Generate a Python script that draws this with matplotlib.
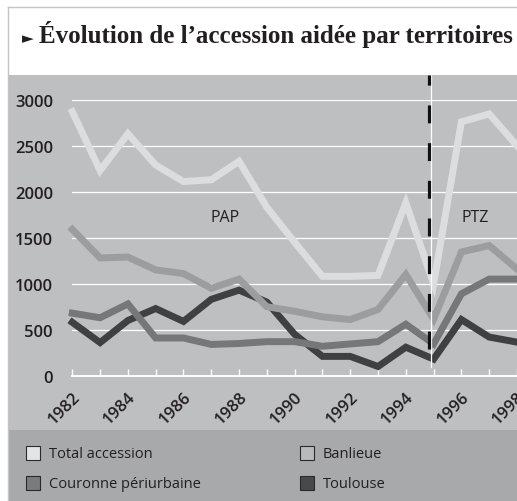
import matplotlib
matplotlib.use("Agg")
import matplotlib.pyplot as plt
from matplotlib.patches import Rectangle
from matplotlib.lines import Line2D
from matplotlib.transforms import ScaledTranslation

# données
years = list(range(1982, 1999))
total = [2870, 2230, 2630, 2290, 2110, 2130, 2330, 1830, 1450, 1080, 1080, 1090, 1880, 1000, 2760, 2845, 2500]
banlieue = [1590, 1280, 1290, 1150, 1110, 950, 1050, 750, 700, 640, 610, 720, 1100, 615, 1345, 1415, 1160]
couronne = [680, 630, 780, 410, 410, 340, 350, 370, 370, 320, 345, 370, 560, 345, 890, 1050, 1050]
toulouse = [580, 360, 600, 730, 590, 830, 930, 800, 450, 210, 210, 100, 310, 180, 610, 420, 365]
series_names = ["Total accession", "Banlieue", "Couronne périurbaine", "Toulouse"]
series_colors = ["#dcddde", "#9c9d9f", "#767779", "#3f4042"]
legend_colors = ["#e4e4e6", "#b9babc", "#7a7b7d", "#48494b"]
ytick_vals = [0, 500, 1000, 1500, 2000, 2500, 3000]
ytick_labels = ["0", "500", "1000", "1500", "2000", "2500", "3000"]
xtick_vals = list(range(1982, 1999, 2))

W, H = 517, 502
FONT = ["Open Sans", "DejaVu Sans"]
TXT = "#231f20"


def fx(px):
    return px / W


def fy(py):
    return 1 - py / H


fig = plt.figure(figsize=(W / 100, H / 100), dpi=100)
fig.patch.set_facecolor("white")

# fonds gris
fig.patches.append(Rectangle((fx(8), fy(431)), 1, fy(76) - fy(431), transform=fig.transFigure,
                             facecolor="#bebfc1", edgecolor="none", zorder=-2))
fig.patches.append(Rectangle((fx(8), 0), 1, fy(431), transform=fig.transFigure,
                             facecolor="#a8a9ab", edgecolor="none", zorder=-2))
# cadre
fig.add_artist(Line2D([fx(8), 1], [fy(7.5), fy(7.5)], transform=fig.transFigure, color="#c4c4c4", lw=1))
fig.add_artist(Line2D([fx(8), fx(8)], [0, fy(7.5)], transform=fig.transFigure, color="#c4c4c4", lw=1))

# titre
fig.text(fx(22), fy(43), "\u25ba", fontsize=11, family=["DejaVu Sans"], color=TXT, va="baseline")
fig.text(fx(39), fy(43), "Évolution de l\u2019accession aidée par territoires", fontsize=18,
         family=["Liberation Serif", "DejaVu Serif"], weight="bold", color=TXT, va="baseline")

ax = fig.add_axes([fx(72.3), fy(376.7), 1 - fx(72.3), fy(100.7) - fy(376.7)])
ax.set_zorder(3)
ax.set_facecolor("none")
ax.set_xlim(1982, 1998)
ax.set_ylim(0, 3000)
for s in ax.spines.values():
    s.set_visible(False)

for v in ytick_vals[1:]:
    ax.axhline(v, color="white", lw=0.9, zorder=1)
ax.axhline(0, color="white", lw=1.4, zorder=1, clip_on=False)

ax.set_yticks(ytick_vals)
ax.set_yticklabels(ytick_labels, family=FONT, fontsize=12, color=TXT, weight="semibold")
ax.tick_params(axis="y", length=0, pad=14)

ax.set_xticks(xtick_vals)
ax.set_xticks(years, minor=True)
ax.set_xticklabels([str(y) for y in xtick_vals], family=FONT, fontsize=12, color=TXT,
                   weight="semibold", rotation=45, ha="right", va="center", rotation_mode="anchor")
ax.tick_params(axis="x", which="both", direction="in", length=5, width=1, color="white", pad=13)
shift = ScaledTranslation(4 / 72, 0, fig.dpi_scale_trans)
for lab in ax.get_xticklabels():
    lab.set_transform(lab.get_transform() + shift)

# séparation PAP / PTZ
x0 = 1994.84
ax.plot([x0 + 0.06, x0 + 0.06], [100, 3270], color="white", lw=0.9, zorder=6, clip_on=False)
ax.plot([x0, x0], [290, 3270], color="#111111", lw=2.3, zorder=7, clip_on=False,
        linestyle=(0, (5.6, 6.2)))

data = [total, banlieue, couronne, toulouse]
zorders = [5, 4, 3, 2]
for vals, col, z in zip(data, series_colors, zorders):
    ax.plot(years, vals, color=col, lw=5, zorder=z, solid_joinstyle="miter", clip_on=False)

ax.text(1987.5, 1725, "PAP", family=FONT, fontsize=11.5, color=TXT, ha="center", va="center")
ax.text(1996.5, 1725, "PTZ", family=FONT, fontsize=11.5, color=TXT, ha="center", va="center")

# légende
leg_pos = [(26, 447), (300, 447), (26, 477), (300, 477)]
for name, col, (lx, ly) in zip(series_names, legend_colors, leg_pos):
    fig.patches.append(Rectangle((fx(lx), fy(ly + 14)), fx(14), fy(0) - fy(14), transform=fig.transFigure,
                                 facecolor=col, edgecolor="#2a2a2a", lw=0.8, zorder=2))
    fig.text(fx(lx + 23), fy(ly + 7.5), name, family=FONT, fontsize=10.5, color=TXT, va="center")

fig.savefig("out.png", dpi=100)
